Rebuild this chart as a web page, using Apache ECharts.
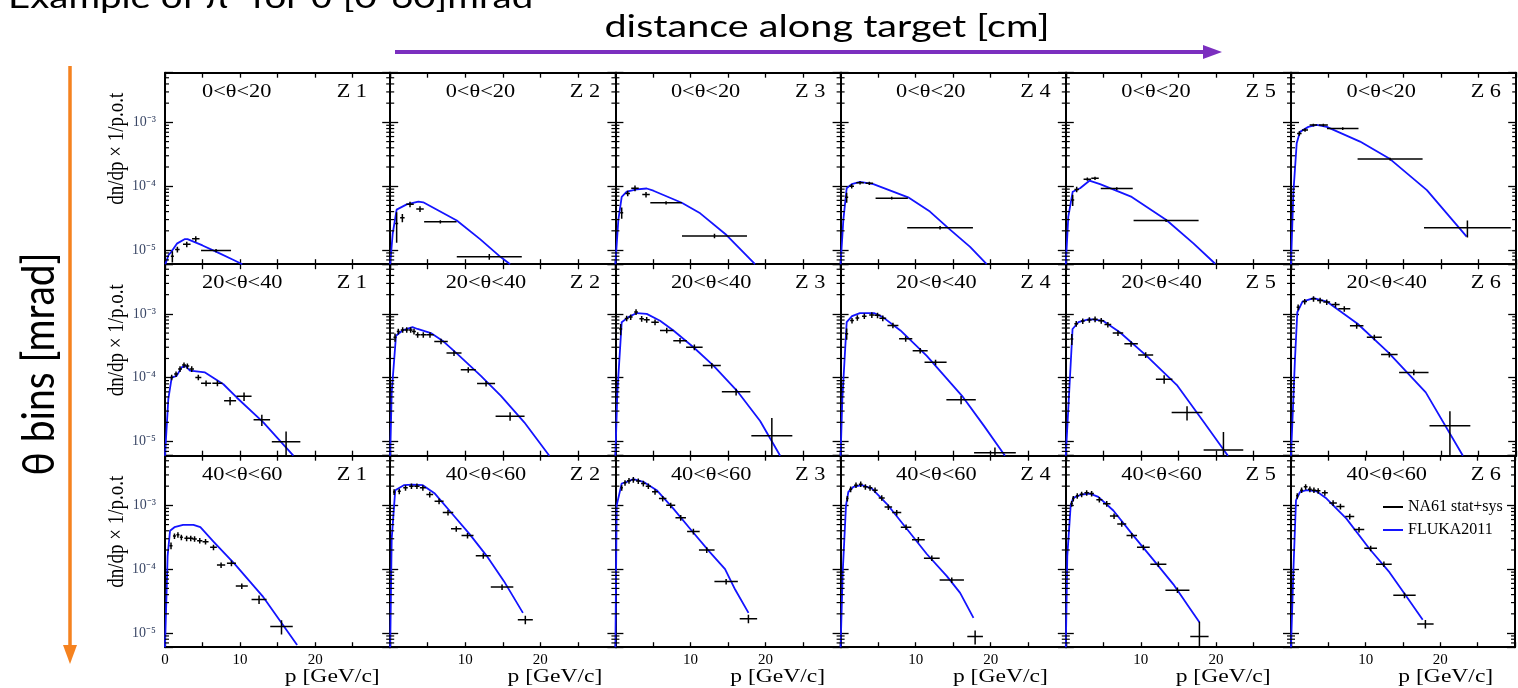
<!DOCTYPE html>
<html>
<head>
  <meta charset="utf-8">
</head>
<body style="margin: 0; background: #fff">
  <div id="container" style="width: 1518px; height: 688px"></div>
  <script src="https://cdn.jsdelivr.net/npm/echarts@6/dist/echarts.min.js"></script>
  <script>
    // ---- data: NA61 points are [p, value, half bin width, relative error] ----
    const thetaBins = ['0<θ<20', '20<θ<40', '40<θ<60'];
    const zBins = ['Z 1', 'Z 2', 'Z 3', 'Z 4', 'Z 5', 'Z 6'];
    const xTickLabels = ['0', '10', '20'];
    const yMinorTicks = [7e-6, 8e-6, 9e-6, 2e-5, 3e-5, 4e-5, 5e-5, 6e-5, 7e-5, 8e-5, 9e-5,
      2e-4, 3e-4, 4e-4, 5e-4, 6e-4, 7e-4, 8e-4, 9e-4, 2e-3, 3e-3, 4e-3, 5e-3];

    const na61_t0_z1 = [[0.98, 8.0e-6, 0.2, 0.2], [1.65, 1.02e-5, 0.3, 0.1], [2.9, 1.23e-5, 0.5, 0.1], [4.1, 1.5e-5, 0.5, 0.1], [6.8, 9.8e-6, 2.0, 0.06]];
    const na61_t0_z2 = [[0.86, 2.6e-5, 0.2, 0.5], [1.62, 3.2e-5, 0.3, 0.15], [2.64, 5.2e-5, 0.5, 0.1], [3.97, 4.4e-5, 0.5, 0.1], [6.68, 2.77e-5, 2.16, 0.06], [13.2, 7.85e-6, 4.33, 0.1]];
    const na61_t0_z3 = [[0.84, 3.85e-5, 0.2, 0.2], [1.64, 7.7e-5, 0.3, 0.1], [2.61, 9.3e-5, 0.5, 0.1], [4.08, 7.4e-5, 0.5, 0.1], [6.75, 5.5e-5, 2.1, 0.06], [13.2, 1.66e-5, 4.33, 0.08]];
    const na61_t0_z4 = [[0.81, 6.7e-5, 0.2, 0.18], [1.48, 1.0e-4, 0.3, 0.08], [2.59, 1.13e-4, 0.5, 0.06], [3.83, 1.11e-4, 0.5, 0.06], [6.81, 6.5e-5, 2.15, 0.05], [13.25, 2.24e-5, 4.38, 0.06]];
    const na61_t0_z5 = [[0.92, 6.1e-5, 0.2, 0.2], [1.45, 8.9e-5, 0.3, 0.1], [2.87, 1.29e-4, 0.5, 0.06], [3.89, 1.33e-4, 0.5, 0.06], [6.79, 9.2e-5, 2.13, 0.05], [13.36, 2.9e-5, 4.33, 0.05]];
    const na61_t0_z6 = [[1.11, 6.7e-4, 0.3, 0.08], [1.87, 7.6e-4, 0.4, 0.06], [2.98, 9.1e-4, 0.5, 0.05], [4.31, 9.1e-4, 0.6, 0.05], [6.89, 8.0e-4, 2.1, 0.05], [13.2, 2.66e-4, 4.33, 0.05], [23.5, 2.24e-5, 5.78, 0.3]];

    const na61_t1_z1 = [[0.89, 1.01e-4, 0.2, 0.1], [1.47, 1.14e-4, 0.25, 0.1], [2.0, 1.37e-4, 0.25, 0.1], [2.53, 1.58e-4, 0.25, 0.1], [2.98, 1.52e-4, 0.25, 0.1], [3.56, 1.37e-4, 0.3, 0.1], [4.44, 1.01e-4, 0.4, 0.1], [5.47, 8.2e-5, 0.67, 0.1], [6.98, 8.2e-5, 0.67, 0.1], [8.67, 4.35e-5, 0.8, 0.15], [10.53, 5.1e-5, 1.0, 0.15], [12.9, 2.19e-5, 1.1, 0.2], [16.13, 9.9e-6, 1.9, 0.45]];
    const na61_t1_z2 = [[0.64, 4.3e-4, 0.2, 0.15], [1.08, 5.3e-4, 0.2, 0.1], [1.66, 5.6e-4, 0.25, 0.1], [2.2, 5.6e-4, 0.25, 0.1], [2.73, 5.6e-4, 0.25, 0.1], [3.17, 5.3e-4, 0.25, 0.1], [3.66, 4.7e-4, 0.3, 0.1], [4.41, 4.7e-4, 0.4, 0.1], [5.3, 4.7e-4, 0.5, 0.1], [6.77, 3.7e-4, 0.9, 0.1], [8.5, 2.43e-4, 1.0, 0.1], [10.4, 1.33e-4, 1.0, 0.1], [12.77, 8.1e-5, 1.2, 0.1], [15.97, 2.5e-5, 1.93, 0.15]];
    const na61_t1_z3 = [[0.7, 5.8e-4, 0.2, 0.2], [1.5, 8.5e-4, 0.25, 0.1], [2.04, 8.9e-4, 0.25, 0.1], [2.75, 1.07e-3, 0.25, 0.1], [3.5, 8.4e-4, 0.3, 0.1], [4.17, 8.1e-4, 0.4, 0.1], [5.28, 7.4e-4, 0.5, 0.1], [6.84, 5.5e-4, 0.9, 0.1], [8.61, 3.8e-4, 0.9, 0.1], [10.52, 3.0e-4, 1.1, 0.1], [12.84, 1.55e-4, 1.2, 0.1], [16.08, 6.0e-5, 1.9, 0.12], [20.84, 1.23e-5, 2.73, 0.9]];
    const na61_t1_z4 = [[0.81, 4.9e-4, 0.2, 0.2], [1.52, 7.85e-4, 0.25, 0.1], [2.23, 8.65e-4, 0.25, 0.1], [3.16, 9.2e-4, 0.3, 0.1], [4.16, 9.6e-4, 0.35, 0.1], [4.92, 9.5e-4, 0.4, 0.1], [5.62, 8.55e-4, 0.45, 0.1], [6.97, 6.6e-4, 0.73, 0.1], [8.67, 4.07e-4, 0.88, 0.1], [10.6, 2.65e-4, 1.0, 0.1], [12.65, 1.74e-4, 1.47, 0.1], [16.05, 4.5e-5, 1.96, 0.15], [20.56, 6.7e-6, 2.78, 0.2]];
    const na61_t1_z5 = [[0.8, 4.05e-4, 0.2, 0.2], [1.39, 7.0e-4, 0.25, 0.1], [2.26, 7.7e-4, 0.25, 0.1], [3.14, 8.05e-4, 0.3, 0.1], [3.9, 8.25e-4, 0.35, 0.1], [4.72, 7.8e-4, 0.4, 0.1], [5.6, 6.8e-4, 0.45, 0.1], [6.95, 5.0e-4, 0.7, 0.1], [8.7, 3.4e-4, 0.9, 0.1], [10.64, 2.27e-4, 1.0, 0.1], [13.1, 9.5e-5, 1.1, 0.15], [16.15, 2.85e-5, 2.05, 0.25], [21.0, 7.4e-6, 2.64, 0.9]];
    const na61_t1_z6 = [[0.95, 1.27e-3, 0.2, 0.1], [1.83, 1.56e-3, 0.3, 0.1], [3.0, 1.72e-3, 0.35, 0.1], [3.88, 1.62e-3, 0.4, 0.1], [4.76, 1.53e-3, 0.45, 0.1], [5.93, 1.4e-3, 0.55, 0.1], [7.1, 1.2e-3, 0.8, 0.1], [8.75, 6.5e-4, 0.9, 0.1], [11.1, 4.3e-4, 1.0, 0.1], [13.1, 2.3e-4, 1.1, 0.1], [16.36, 1.21e-4, 1.96, 0.1], [21.17, 1.76e-5, 2.72, 0.7]];

    const na61_t2_z1 = [[0.8, 2.33e-4, 0.2, 0.12], [1.26, 3.3e-4, 0.2, 0.1], [1.72, 3.45e-4, 0.2, 0.1], [2.18, 3.16e-4, 0.2, 0.1], [2.88, 3.05e-4, 0.3, 0.1], [3.43, 3.05e-4, 0.3, 0.1], [3.94, 2.98e-4, 0.3, 0.1], [4.63, 2.8e-4, 0.35, 0.1], [5.4, 2.7e-4, 0.4, 0.1], [6.46, 2.2e-4, 0.45, 0.1], [7.47, 1.16e-4, 0.55, 0.1], [8.85, 1.24e-4, 0.6, 0.1], [10.23, 5.45e-5, 0.8, 0.1], [12.53, 3.36e-5, 1.0, 0.15], [15.52, 1.27e-5, 1.5, 0.25]];
    const na61_t2_z2 = [[0.52, 1.62e-3, 0.15, 0.1], [1.21, 1.66e-3, 0.2, 0.1], [2.04, 1.88e-3, 0.3, 0.1], [2.83, 2.0e-3, 0.3, 0.1], [3.56, 2.0e-3, 0.35, 0.1], [4.35, 1.88e-3, 0.4, 0.1], [5.27, 1.48e-3, 0.45, 0.1], [6.51, 1.16e-3, 0.6, 0.1], [7.7, 7.7e-4, 0.7, 0.1], [8.8, 4.3e-4, 0.7, 0.1], [10.3, 3.36e-4, 0.8, 0.1], [12.4, 1.62e-4, 1.0, 0.1], [14.9, 5.25e-5, 1.5, 0.1], [18.0, 1.62e-5, 1.0, 0.15]];
    const na61_t2_z3 = [[0.84, 1.88e-3, 0.15, 0.1], [1.28, 2.26e-3, 0.2, 0.1], [1.81, 2.43e-3, 0.25, 0.1], [2.39, 2.52e-3, 0.25, 0.1], [3.05, 2.4e-3, 0.3, 0.1], [3.72, 2.2e-3, 0.3, 0.1], [4.39, 2.0e-3, 0.35, 0.1], [5.28, 1.63e-3, 0.4, 0.1], [6.3, 1.28e-3, 0.5, 0.1], [7.37, 1.0e-3, 0.6, 0.1], [8.7, 6.4e-4, 0.7, 0.1], [10.39, 3.9e-4, 0.84, 0.1], [12.17, 2.0e-4, 1.04, 0.1], [14.75, 6.4e-5, 1.56, 0.1], [17.72, 1.68e-5, 1.16, 0.15]];
    const na61_t2_z4 = [[0.9, 1.28e-3, 0.15, 0.1], [1.34, 1.79e-3, 0.2, 0.1], [2.05, 2.07e-3, 0.25, 0.1], [2.68, 2.15e-3, 0.25, 0.1], [3.3, 1.95e-3, 0.3, 0.1], [3.92, 1.88e-3, 0.3, 0.1], [4.59, 1.73e-3, 0.35, 0.1], [5.48, 1.31e-3, 0.4, 0.1], [6.36, 9.4e-4, 0.5, 0.1], [7.48, 7.7e-4, 0.6, 0.1], [8.72, 4.55e-4, 0.7, 0.1], [10.36, 2.9e-4, 0.85, 0.1], [12.15, 1.49e-4, 1.05, 0.1], [14.81, 6.76e-5, 1.62, 0.1], [17.92, 8.8e-6, 1.04, 0.25]];
    const na61_t2_z5 = [[0.78, 1.06e-3, 0.15, 0.1], [1.0, 1.28e-3, 0.15, 0.1], [1.53, 1.41e-3, 0.2, 0.1], [2.11, 1.49e-3, 0.25, 0.1], [2.78, 1.57e-3, 0.3, 0.1], [3.44, 1.53e-3, 0.3, 0.1], [4.47, 1.23e-3, 0.4, 0.1], [5.45, 1.06e-3, 0.5, 0.1], [6.43, 6.8e-4, 0.55, 0.1], [7.45, 5.13e-4, 0.6, 0.1], [8.79, 3.36e-4, 0.7, 0.1], [10.33, 2.2e-4, 0.85, 0.1], [12.33, 1.2e-4, 1.07, 0.1], [14.87, 4.7e-5, 1.6, 0.1], [17.8, 8.8e-6, 1.22, 0.7]];
    const na61_t2_z6 = [[0.84, 1.41e-3, 0.15, 0.1], [1.42, 1.73e-3, 0.2, 0.1], [1.96, 1.95e-3, 0.25, 0.1], [2.53, 1.79e-3, 0.25, 0.1], [3.07, 1.73e-3, 0.3, 0.1], [3.64, 1.69e-3, 0.3, 0.1], [4.53, 1.57e-3, 0.4, 0.1], [5.64, 1.09e-3, 0.5, 0.1], [6.62, 9.6e-4, 0.55, 0.1], [7.87, 6.7e-4, 0.6, 0.1], [9.11, 4.18e-4, 0.7, 0.1], [10.67, 2.12e-4, 0.85, 0.1], [12.44, 1.2e-4, 1.05, 0.1], [15.2, 3.9e-5, 1.5, 0.1], [18.0, 1.39e-5, 1.1, 0.15]];

    // FLUKA2011 curves: [p, value]
    const fluka_t0_z1 = [[0.05, 6e-6], [0.5, 8.5e-6], [0.82, 9.3e-6], [1.58, 1.26e-5], [2.6, 1.48e-5], [3.0, 1.48e-5], [5, 1.18e-5], [7, 9.2e-6], [9, 7.1e-6], [10.3, 6e-6]];
    const fluka_t0_z2 = [[0, 6e-6], [0.33, 1.8e-5], [0.86, 4.3e-5], [2.2, 5.2e-5], [3.75, 5.75e-5], [4.4, 5.6e-5], [8.87, 2.9e-5], [11.97, 1.48e-5], [14.64, 7.9e-6], [15.97, 6e-6]];
    const fluka_t0_z3 = [[0, 6e-6], [0.39, 2.95e-5], [0.84, 6.8e-5], [1.51, 8.2e-5], [2.84, 8.9e-5], [4.17, 9.2e-5], [5.06, 8.5e-5], [8.84, 5.5e-5], [11.3, 3.76e-5], [14.8, 1.72e-5], [18.6, 6e-6]];
    const fluka_t0_z4 = [[0, 6e-6], [0.36, 2.9e-5], [0.81, 9.3e-5], [1.48, 1.08e-4], [2.59, 1.17e-4], [4.37, 1.08e-4], [9.0, 6.7e-5], [11.9, 4.0e-5], [14.35, 2.2e-5], [17.25, 1.12e-5], [19.46, 6e-6]];
    const fluka_t0_z5 = [[0, 6e-6], [0.33, 3.3e-5], [0.92, 8.2e-5], [1.9, 9.3e-5], [3.14, 1.22e-4], [4.56, 1.08e-4], [8.78, 6.8e-5], [13.4, 2.95e-5], [17.0, 1.27e-5], [19.9, 6.1e-6]];
    const fluka_t0_z6 = [[0, 6e-6], [0.31, 7.7e-5], [0.76, 4.7e-4], [1.2, 7.1e-4], [2.31, 8.5e-4], [3.42, 9.1e-4], [4.76, 8.5e-4], [9.2, 5.0e-4], [13.2, 2.66e-4], [18.1, 8.7e-5], [23.4, 1.62e-5]];

    const fluka_t1_z1 = [[0, 6e-6], [0.44, 4.6e-5], [0.89, 1.0e-4], [1.55, 1.07e-4], [2.22, 1.45e-4], [2.67, 1.54e-4], [3.33, 1.29e-4], [5.33, 1.21e-4], [7.78, 7.9e-5], [9.55, 4.9e-5], [13.1, 2.0e-5], [17.1, 6e-6]];
    const fluka_t1_z2 = [[0, 6e-6], [0.2, 5.9e-5], [0.77, 4.55e-4], [1.64, 5.5e-4], [2.97, 6.2e-4], [3.64, 5.8e-4], [5.42, 5.0e-4], [6.97, 3.8e-4], [8.97, 2.34e-4], [12.08, 1.07e-4], [14.75, 5.2e-5], [17.86, 2.0e-5], [21.2, 6e-6]];
    const fluka_t1_z3 = [[0, 6e-6], [0.26, 5.9e-5], [0.84, 7.4e-4], [1.73, 8.9e-4], [2.84, 1.03e-3], [4.17, 1.0e-3], [5.95, 7.8e-4], [7.73, 5.5e-4], [10.4, 3.0e-4], [13.06, 1.55e-4], [16.17, 6.3e-5], [19.28, 2.1e-5], [21.95, 6e-6]];
    const fluka_t1_z4 = [[0, 6e-6], [0.23, 4.6e-5], [0.81, 7.4e-4], [1.52, 9.2e-4], [2.57, 1.03e-3], [4.45, 1.03e-3], [5.62, 8.9e-4], [7.97, 5.5e-4], [11.48, 2.2e-4], [16.17, 5.2e-5], [19.1, 1.76e-5], [21.9, 6e-6]];
    const fluka_t1_z5 = [[0, 6e-6], [0.4, 4.6e-5], [0.9, 5.8e-4], [1.68, 7.4e-4], [3.13, 8.3e-4], [4.9, 7.85e-4], [7.24, 5.1e-4], [10.76, 2.2e-4], [14.87, 7.5e-5], [18.4, 2.0e-5], [21.6, 6e-6]];
    const fluka_t1_z6 = [[0, 6e-6], [0.53, 1.96e-4], [0.84, 1.06e-3], [1.53, 1.56e-3], [3.0, 1.77e-3], [4.76, 1.56e-3], [8.87, 7.0e-4], [12.96, 2.5e-4], [17.95, 5.9e-5], [22.9, 6e-6]];

    const fluka_t2_z1 = [[0, 6e-6], [0.35, 1.62e-4], [0.67, 4.0e-4], [1.26, 4.55e-4], [2.41, 4.95e-4], [3.79, 4.95e-4], [4.71, 4.55e-4], [6.55, 2.64e-4], [9.3, 1.2e-4], [12.99, 3.79e-5], [17.6, 6.5e-6]];
    const fluka_t2_z2 = [[0, 6e-6], [0.2, 2.98e-4], [0.67, 1.73e-3], [1.81, 2.07e-3], [2.96, 2.12e-3], [4.34, 2.07e-3], [5.95, 1.53e-3], [8.25, 7.4e-4], [10.55, 3.57e-4], [12.85, 1.62e-4], [15.15, 6.5e-5], [17.68, 2.07e-5]];
    const fluka_t2_z3 = [[0, 6e-6], [0.17, 1.0e-3], [0.84, 2.2e-3], [1.51, 2.34e-3], [2.39, 2.57e-3], [3.72, 2.34e-3], [5.5, 1.73e-3], [7.72, 8.9e-4], [10.17, 4.0e-4], [12.61, 1.83e-4], [14.61, 1.0e-4], [15.95, 4.8e-5], [17.73, 2.07e-5]];
    const fluka_t2_z4 = [[0, 6e-6], [0.28, 8.9e-5], [0.72, 1.0e-3], [1.03, 1.62e-3], [1.7, 1.95e-3], [2.81, 2.07e-3], [4.15, 1.84e-3], [6.15, 1.06e-3], [8.81, 4.3e-4], [11.48, 1.73e-4], [14.15, 7.8e-5], [15.92, 4.26e-5], [17.7, 1.73e-5]];
    const fluka_t2_z5 = [[0, 6e-6], [0.2, 1.62e-4], [0.65, 1.0e-3], [1.0, 1.31e-3], [2.11, 1.48e-3], [3.22, 1.53e-3], [4.33, 1.36e-3], [6.33, 8.3e-4], [9.0, 3.36e-4], [11.67, 1.4e-4], [14.33, 5.8e-5], [16.33, 2.63e-5], [17.8, 1.47e-5]];
    const fluka_t2_z6 = [[0, 6e-6], [0.31, 8.9e-5], [0.67, 1.2e-3], [1.2, 1.62e-3], [2.09, 1.73e-3], [3.42, 1.66e-3], [4.76, 1.28e-3], [7.42, 6.2e-4], [10.53, 2.07e-4], [13.2, 8.9e-5], [15.42, 3.8e-5], [17.64, 1.62e-5]];

    const na61 = [
      [na61_t0_z1, na61_t0_z2, na61_t0_z3, na61_t0_z4, na61_t0_z5, na61_t0_z6],
      [na61_t1_z1, na61_t1_z2, na61_t1_z3, na61_t1_z4, na61_t1_z5, na61_t1_z6],
      [na61_t2_z1, na61_t2_z2, na61_t2_z3, na61_t2_z4, na61_t2_z5, na61_t2_z6]
    ];
    const fluka = [
      [fluka_t0_z1, fluka_t0_z2, fluka_t0_z3, fluka_t0_z4, fluka_t0_z5, fluka_t0_z6],
      [fluka_t1_z1, fluka_t1_z2, fluka_t1_z3, fluka_t1_z4, fluka_t1_z5, fluka_t1_z6],
      [fluka_t2_z1, fluka_t2_z2, fluka_t2_z3, fluka_t2_z4, fluka_t2_z5, fluka_t2_z6]
    ];

    // ---- layout ----
    const LEFT = 165, W = 225.2, TOP = 72.7, H = 191.5;
    const XMIN = 0, XMAX = 30, YMIN = 6e-6, YMAX = 6e-3;
    const SERIF = 'Liberation Serif';
    const BLUE = '#1414ff';
    const STRETCH = 1.24; // the source figure is stretched horizontally
    const SUP = { '-': '⁻', '0': '⁰', '1': '¹', '2': '²', '3': '³', '4': '⁴', '5': '⁵', '6': '⁶', '7': '⁷', '8': '⁸', '9': '⁹' };

    function decadeLabel(v) {
      const e = Math.log10(v), n = Math.round(e);
      if (Math.abs(e - n) > 1e-6) return '';
      return '10' + String(n).split('').map(ch => SUP[ch]).join('');
    }

    function renderErr(params, api) {
      const p = api.value(0), v = api.value(1), dp = api.value(2), rel = api.value(3);
      const lo = Math.max(v * (1 - rel), YMIN), hi = Math.min(v * (1 + rel), YMAX);
      const a = api.coord([Math.max(p - dp, XMIN), v]);
      const b = api.coord([Math.min(p + dp, XMAX), v]);
      const c = api.coord([p, lo]);
      const d = api.coord([p, hi]);
      const style = { stroke: '#000', lineWidth: 1.5 };
      return {
        type: 'group',
        children: [
          { type: 'line', shape: { x1: a[0], y1: a[1], x2: b[0], y2: b[1] }, style: style },
          { type: 'line', shape: { x1: c[0], y1: c[1], x2: d[0], y2: d[1] }, style: style }
        ]
      };
    }

    function renderMinor(params, api) {
      const v = api.value(1);
      const l = api.coord([XMIN, v]), r = api.coord([XMAX, v]);
      const style = { stroke: '#000', lineWidth: 1.2 };
      return {
        type: 'group',
        children: [
          { type: 'line', shape: { x1: l[0], y1: l[1], x2: l[0] + 4, y2: l[1] }, style: style },
          { type: 'line', shape: { x1: r[0], y1: r[1], x2: r[0] - 4, y2: r[1] }, style: style }
        ]
      };
    }

    const grid = [], xAxis = [], yAxis = [], series = [], graphic = [];
    const frame = { show: true, onZero: false, lineStyle: { color: '#000', width: 2 } };

    for (let r = 0; r < 3; r++) {
      for (let c = 0; c < 6; c++) {
        const g = r * 6 + c;
        const left = LEFT + c * W, top = TOP + r * H;
        grid.push({ left: left, top: top, width: W, height: H });

        const xBase = {
          gridIndex: g, type: 'value', min: XMIN, max: XMAX, interval: 5,
          axisLine: frame,
          axisTick: { inside: true, length: 5, lineStyle: { color: '#000', width: 1.3 } },
          splitLine: { show: false }
        };
        xAxis.push(Object.assign({}, xBase, {
          position: 'bottom',
          axisLabel: {
            show: r === 2, margin: 5, color: '#000', fontFamily: SERIF, fontSize: 15,
            formatter: v => {
              const s = String(v);
              if (!xTickLabels.includes(s)) return '';
              return (s === '0' && c > 0) ? '' : s;
            }
          }
        }));
        xAxis.push(Object.assign({}, xBase, { position: 'top', axisLabel: { show: false } }));

        const yBase = {
          gridIndex: g, type: 'log', logBase: 10, min: YMIN, max: YMAX,
          axisLine: frame,
          axisTick: { inside: true, length: 8, lineStyle: { color: '#000', width: 1.3 } },
          minorTick: { show: false },
          splitLine: { show: false }
        };
        yAxis.push(Object.assign({}, yBase, {
          position: 'left',
          axisLabel: {
            show: c === 0, margin: 9, color: '#3a4766', fontFamily: SERIF, fontSize: 14,
            formatter: decadeLabel
          }
        }));
        yAxis.push(Object.assign({}, yBase, { position: 'right', axisLabel: { show: false } }));

        series.push({
          type: 'custom', name: 'NA61 stat+sys',
          xAxisIndex: 2 * g, yAxisIndex: 2 * g,
          data: na61[r][c], renderItem: renderErr, clip: true, z: 3,
          itemStyle: { color: '#000' }
        });
        series.push({
          type: 'line', name: 'FLUKA2011',
          xAxisIndex: 2 * g, yAxisIndex: 2 * g,
          data: fluka[r][c], showSymbol: false, symbol: 'none', clip: true, z: 2,
          lineStyle: { color: BLUE, width: 1.8, join: 'round' }, itemStyle: { color: BLUE }
        });
        series.push({
          type: 'custom', silent: true,
          xAxisIndex: 2 * g, yAxisIndex: 2 * g,
          data: yMinorTicks.map(v => [XMIN, v]), renderItem: renderMinor, z: 4
        });

        // panel labels
        const titleLeft = c === 0 ? left + 37 : left + 55.5;
        const zRight = c === 0 ? left + 202 : left + 210;
        const ty = top + 19.5;
        graphic.push({
          type: 'text', x: titleLeft, y: ty, scaleX: STRETCH,
          style: { text: thetaBins[r], font: '18px "Liberation Serif"', fill: '#000', align: 'left', verticalAlign: 'middle' }
        });
        graphic.push({
          type: 'text', x: zRight, y: ty, scaleX: STRETCH,
          style: { text: zBins[c], font: '18px "Liberation Serif"', fill: '#000', align: 'right', verticalAlign: 'middle' }
        });
      }
      // y-axis title for the row
      graphic.push({
        type: 'text', x: 117, y: TOP + r * H + 76, rotation: Math.PI / 2, scaleY: STRETCH,
        style: { text: 'dn/dp × 1/p.o.t', font: '19px "Liberation Serif"', fill: '#000', align: 'center', verticalAlign: 'middle' }
      });
    }

    for (let c = 0; c < 6; c++) {
      graphic.push({
        type: 'text', x: 379.7 + c * 222.7, y: 677, scaleX: STRETCH,
        style: { text: 'p [GeV/c]', font: '19px "Liberation Serif"', fill: '#000', align: 'right', verticalAlign: 'middle' }
      });
    }

    // slide decorations
    graphic.push(
      {
        type: 'text', x: 8, y: -2, scaleX: 1.28,
        style: { text: 'Example of π⁻ for θ [0-60]mrad', font: '30px Lato', fill: '#000', align: 'left', verticalAlign: 'middle' }
      },
      {
        type: 'text', x: 827, y: 27, scaleX: 1.32,
        style: { text: 'distance along target [cm]', font: '30px Lato', fill: '#000', align: 'center', verticalAlign: 'middle' }
      },
      {
        type: 'line', shape: { x1: 395, y1: 52, x2: 1206, y2: 52 },
        style: { stroke: '#7b2fbf', lineWidth: 4 }
      },
      {
        type: 'polygon', shape: { points: [[1203, 45], [1222, 52], [1203, 59]] },
        style: { fill: '#7b2fbf' }
      },
      {
        type: 'line', shape: { x1: 70, y1: 66, x2: 70, y2: 648 },
        style: { stroke: '#f5821f', lineWidth: 3.5 }
      },
      {
        type: 'polygon', shape: { points: [[63, 645], [70, 664], [77, 645]] },
        style: { fill: '#f5821f' }
      },
      {
        type: 'text', x: 40, y: 364, rotation: Math.PI / 2, scaleY: 1.12,
        style: { text: 'θ bins [mrad]', font: '39px Lato', fill: '#000', align: 'center', verticalAlign: 'middle' }
      }
    );

    var dom = document.getElementById('container');
    var myChart = echarts.init(dom, null, { renderer: 'canvas' });

    var option = {
      animation: false,
      backgroundColor: '#fff',
      grid: grid,
      xAxis: xAxis,
      yAxis: yAxis,
      legend: {
        left: 1383, top: 498, orient: 'vertical', padding: 0,
        itemGap: 5, itemWidth: 20, itemHeight: 2, icon: 'rect', selectedMode: false,
        textStyle: { fontFamily: SERIF, fontSize: 16, color: '#000', lineHeight: 18 },
        data: [
          { name: 'NA61 stat+sys', itemStyle: { color: '#000' } },
          { name: 'FLUKA2011', itemStyle: { color: BLUE } }
        ]
      },
      graphic: graphic,
      series: series
    };

    myChart.setOption(option);
    window.addEventListener('resize', myChart.resize);
  </script>
</body>
</html>
